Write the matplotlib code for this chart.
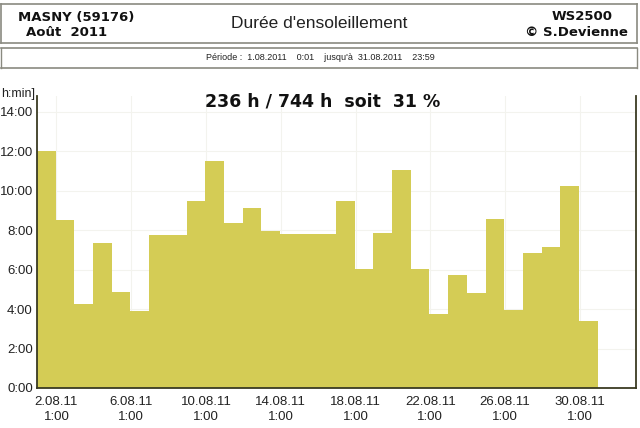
import matplotlib
matplotlib.use("Agg")
import matplotlib.pyplot as plt
from matplotlib.lines import Line2D

days = list(range(1, 31))
hours = [12.03, 8.52, 4.26, 7.35, 4.85, 3.89, 7.73, 7.73, 9.48, 11.49,
         8.36, 9.10, 7.97, 7.81, 7.81, 7.81, 9.48, 6.04, 7.88, 11.07,
         6.04, 3.73, 5.73, 4.80, 8.57, 3.96, 6.83, 7.17, 10.22, 3.40]
tick_days = [2, 6, 10, 14, 18, 22, 26, 30]
tick_labels = [f"{d}.08.11\n1:00" for d in tick_days]
y_ticks = list(range(0, 15, 2))
y_labels = [f"{h}:00" for h in y_ticks]

W, H = 640, 428
fig = plt.figure(figsize=(6.4, 4.28), dpi=100)
fig.patch.set_facecolor("white")

def fx(px):
    return px / W

def fy(py):
    return 1 - py / H

# header frames
lc = "#8a8a80"
for y in [4, 43, 48, 68]:
    fig.add_artist(Line2D([fx(1), fx(637)], [fy(y), fy(y)], color=lc, lw=1.2))
for x in [1, 637]:
    fig.add_artist(Line2D([fx(x), fx(x)], [fy(4), fy(43)], color=lc, lw=1.2))
    fig.add_artist(Line2D([fx(x), fx(x)], [fy(48), fy(68)], color=lc, lw=1.0))

hdr = dict(fontfamily="DejaVu Sans", fontweight="bold", fontsize=9.5, color="#111111")
fig.text(fx(18), fy(17), "MASNY (59176)", ha="left", va="center", **hdr)
fig.text(fx(26), fy(33), "Août  2011", ha="left", va="center", **hdr)
fig.text(fx(613), fy(17), "WS2500", ha="right", va="center", **hdr)
fig.text(fx(628), fy(33), "© S.Devienne", ha="right", va="center", **hdr)
fig.text(fx(319), fy(24), "Durée d'ensoleillement", ha="center", va="center",
         fontfamily="Liberation Sans", fontsize=12.5, color="#222222")
fig.text(fx(320), fy(58), "Période :  1.08.2011    0:01    jusqu'à  31.08.2011    23:59",
         ha="center", va="center", fontfamily="Liberation Sans", fontsize=6.5, color="#222222")

ax = fig.add_axes([fx(37), fy(388), fx(636) - fx(37), fy(96) - fy(388)])
ax.bar([d + 0.5 for d in days], hours, width=1.0, color="#d4cc55", edgecolor="none", zorder=2)
ax.set_xlim(1, 33.05)
ax.set_ylim(0, 14.8)
ax.set_xticks([d + 1 / 24 for d in tick_days])
ax.set_xticklabels(tick_labels, fontfamily="Liberation Sans", fontsize=9.5, color="#222222",
                   linespacing=1.3)
ax.set_yticks(y_ticks)
ax.set_yticklabels(y_labels, fontfamily="Liberation Sans", fontsize=9.5, color="#222222")
ax.tick_params(axis="x", length=0, pad=6)
ax.tick_params(axis="y", length=0, pad=3)
ax.grid(True, color="#f3f3ee", lw=0.8, zorder=0)
ax.spines["top"].set_visible(False)
for s in ["left", "bottom", "right"]:
    ax.spines[s].set_color("#3a3a22")
    ax.spines[s].set_linewidth(1.3)

fig.text(fx(1), fy(94), "h:min]", ha="left", va="center",
         fontfamily="Liberation Sans", fontsize=9, color="#222222")
fig.text(fx(323), fy(101), "236 h / 744 h  soit  31 %", ha="center", va="center",
         fontfamily="DejaVu Sans", fontweight="bold", fontsize=12.5, color="#111111")

fig.savefig("out.png", dpi=100, facecolor="white")
